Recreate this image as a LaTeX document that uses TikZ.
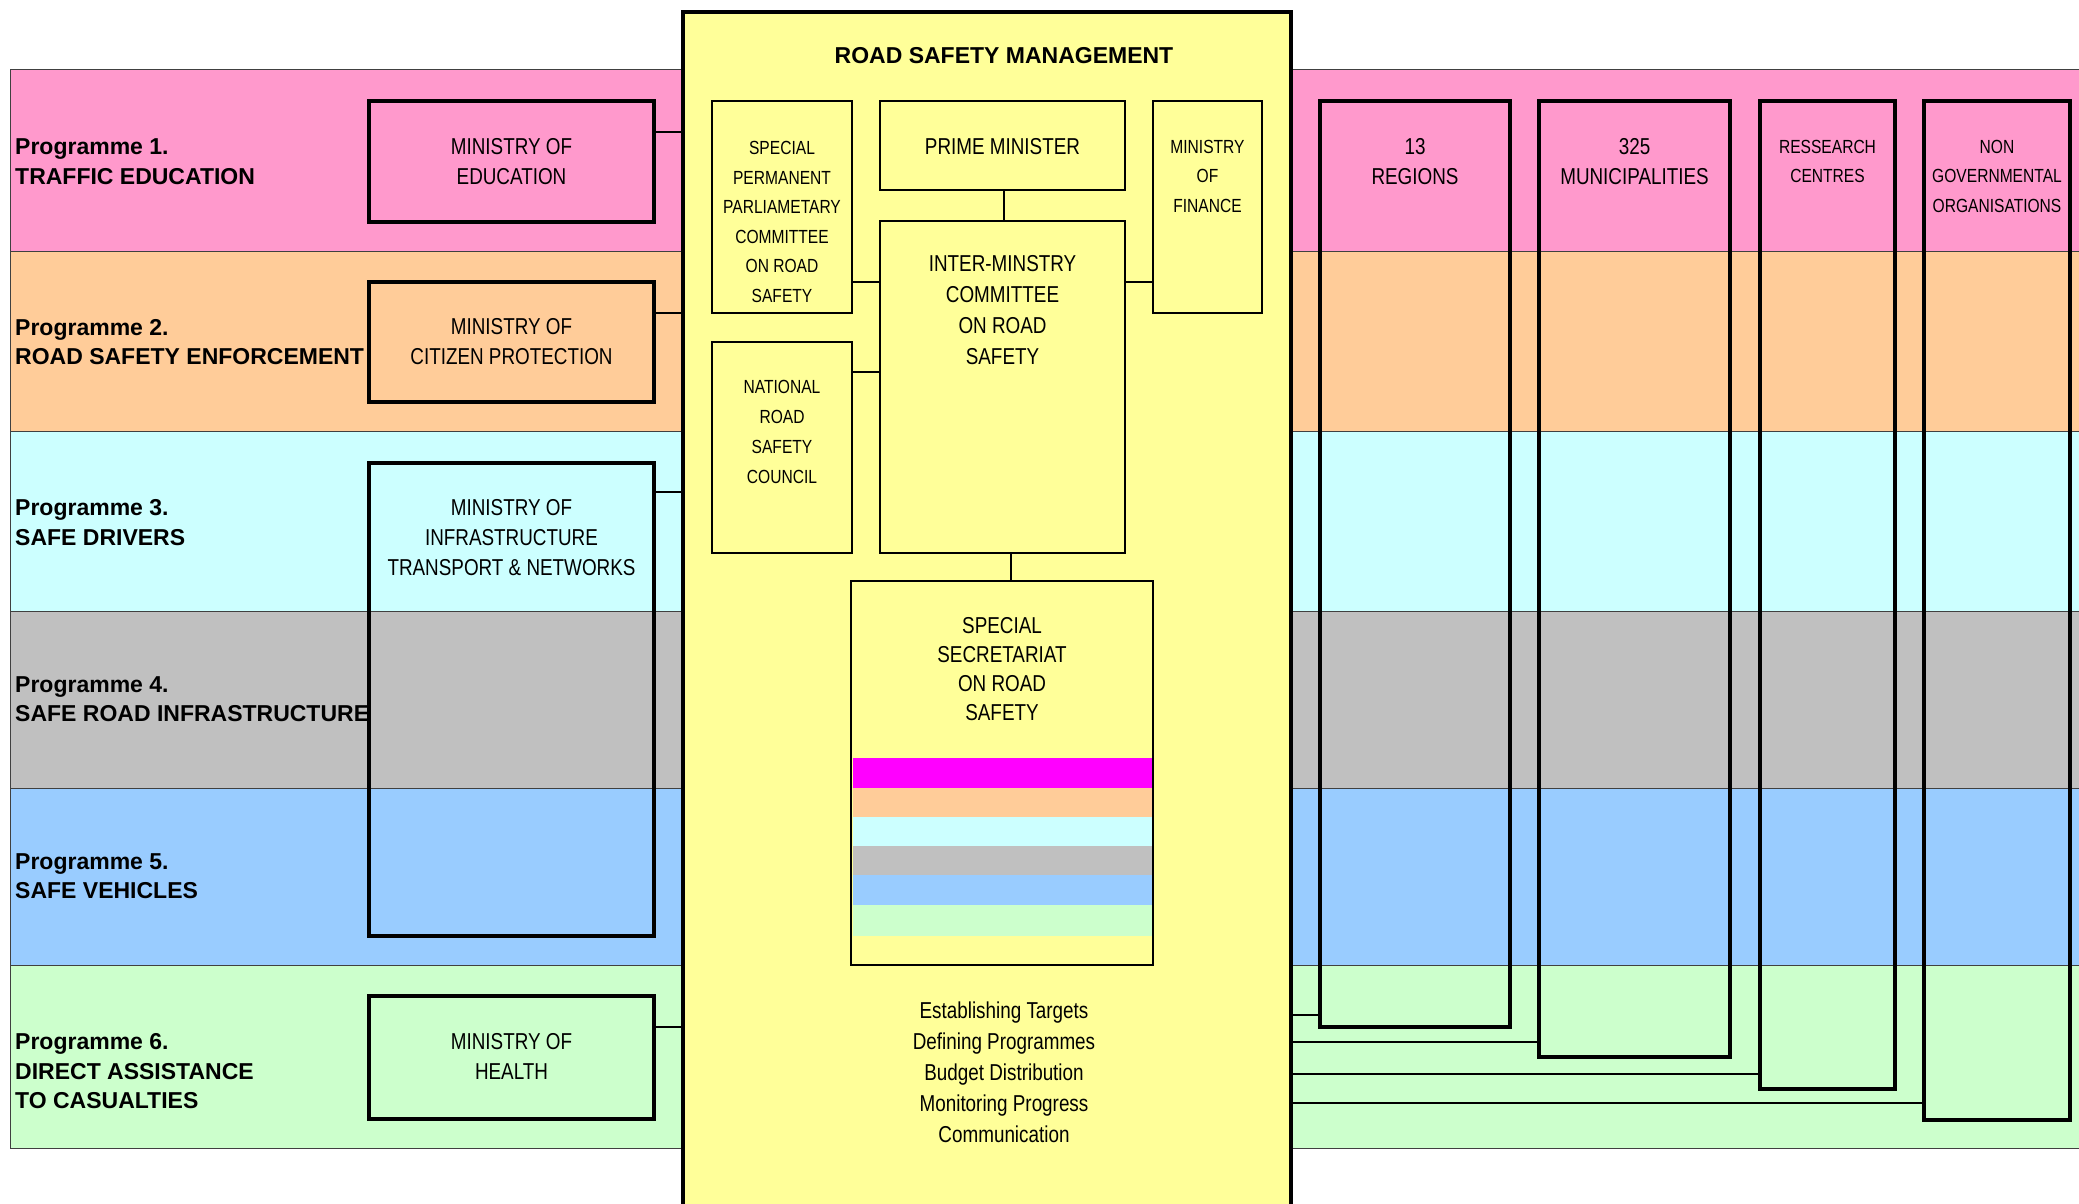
\documentclass[tikz,border=0pt]{standalone}
\usepackage{fontspec}
\setmainfont{Liberation Sans}
\newfontfamily\nar[FakeStretch=0.82]{Liberation Sans}
\definecolor{bpink}{HTML}{FF99CC}
\definecolor{borange}{HTML}{FFCC99}
\definecolor{bcyan}{HTML}{CCFFFF}
\definecolor{bgray}{HTML}{C0C0C0}
\definecolor{bblue}{HTML}{99CCFF}
\definecolor{bgreen}{HTML}{CCFFCC}
\definecolor{byellow}{HTML}{FFFF99}
\definecolor{bmagenta}{HTML}{FF00FF}
\begin{document}
\begin{tikzpicture}[x=1pt,y=-1pt,
  bandline/.style={draw=black!75, line width=1pt},
  minbox/.style={draw, line width=3.2pt, inner sep=0pt, minimum width=285pt},
  inbox/.style={draw, line width=2.4pt, inner sep=0pt},
  rbox/.style={draw, line width=3.6pt, inner sep=0pt},
  boldtxt/.style={font=\bfseries\fontsize{23}{29.5}\selectfont, align=left, anchor=west, inner sep=0pt},
  regtxt/.style={font=\nar\fontsize{23}{30}\selectfont, align=center, inner sep=0pt},
  smalltxt/.style={font=\nar\fontsize{19}{29.5}\selectfont, align=center, inner sep=0pt},
  conn/.style={line width=2.6pt},
  rconn/.style={line width=2.2pt},
  thinconn/.style={line width=1.5pt}]
\useasboundingbox (0,0) rectangle (2079,1204);
\fill[white] (0,0) rectangle (2079,1204);
% programme bands
\filldraw[fill=bpink, bandline] (10,70) rectangle (2095,251);
\filldraw[fill=borange, bandline] (10,251) rectangle (2095,431);
\filldraw[fill=bcyan, bandline] (10,431) rectangle (2095,611);
\filldraw[fill=bgray, bandline] (10,611) rectangle (2095,788);
\filldraw[fill=bblue, bandline] (10,788) rectangle (2095,965);
\filldraw[fill=bgreen, bandline] (10,965) rectangle (2095,1148);
% programme labels
\node[boldtxt] (p1) at (15,161.5) {Programme 1.\\TRAFFIC EDUCATION};
\node[boldtxt] (p2) at (15,342) {Programme 2.\\ROAD SAFETY ENFORCEMENT};
\node[boldtxt] (p3) at (15,522.5) {Programme 3.\\SAFE DRIVERS};
\node[boldtxt] (p4) at (15,699) {Programme 4.\\SAFE ROAD INFRASTRUCTURE};
\node[boldtxt] (p5) at (15,876) {Programme 5.\\SAFE VEHICLES};
\node[boldtxt] (p6) at (15,1071.5) {Programme 6.\\DIRECT ASSISTANCE\\TO CASUALTIES};
% ministries (left)
\node[minbox, minimum height=121pt] (edu) at (511.5,161.5) {};
\node[minbox, minimum height=120pt] (cit) at (511.5,342) {};
\node[minbox, minimum height=473pt] (inf) at (511.5,699.5) {};
\node[minbox, minimum height=123pt] (hea) at (511.5,1057.5) {};
\node[regtxt] (edut) at (511.5,161.5) {MINISTRY OF\\EDUCATION};
\node[regtxt] (citt) at (511.5,342) {MINISTRY OF\\CITIZEN PROTECTION};
\node[regtxt] (inft) at (511.5,537.5) {MINISTRY OF\\INFRASTRUCTURE\\TRANSPORT \& NETWORKS};
\node[regtxt] (heat) at (511.5,1056) {MINISTRY OF\\HEALTH};
% main management box
\node[draw, fill=byellow, line width=4pt, inner sep=0pt, minimum width=608pt, minimum height=1213pt] (main) at (987,618.5) {};
\node[font=\bfseries\fontsize{23}{28}\selectfont, inner sep=0pt] (title) at (1004,56) {ROAD SAFETY MANAGEMENT};
% inner boxes
\node[inbox, minimum width=140pt, minimum height=212pt] (sppc) at (782,207) {};
\node[inbox, minimum width=245pt, minimum height=89pt] (pm) at (1002.5,145.5) {};
\node[inbox, minimum width=109pt, minimum height=212pt] (fin) at (1207.5,207) {};
\node[inbox, minimum width=245pt, minimum height=332pt] (imc) at (1002.5,387) {};
\node[inbox, minimum width=140pt, minimum height=211pt] (nrsc) at (782,447.5) {};
\node[inbox, fill=byellow, minimum width=302pt, minimum height=384pt] (sec) at (1002,773) {};
% secretariat colour stripes
\fill[bmagenta] (852.5,758) rectangle (1151.5,788);
\fill[borange] (852.5,788) rectangle (1151.5,817);
\fill[bcyan] (852.5,817) rectangle (1151.5,846);
\fill[bgray] (852.5,846) rectangle (1151.5,875);
\fill[bblue] (852.5,875) rectangle (1151.5,905);
\fill[bgreen] (852.5,905) rectangle (1151.5,936);
% inner texts
\node[smalltxt] (sppct) at (782,222) {SPECIAL\\PERMANENT\\PARLIAMETARY\\COMMITTEE\\ON ROAD\\SAFETY};
\node[regtxt] (pmt) at (1002.5,147) {PRIME MINISTER};
\node[smalltxt] (fint) at (1207.5,176) {MINISTRY\\OF\\FINANCE};
\node[regtxt, font=\nar\fontsize{23}{31}\selectfont] (imct) at (1002.5,310.5) {INTER-MINSTRY\\COMMITTEE\\ON ROAD\\SAFETY};
\node[smalltxt, font=\nar\fontsize{19}{30}\selectfont] (nrsct) at (782,432) {NATIONAL\\ROAD\\SAFETY\\COUNCIL};
\node[regtxt, font=\nar\fontsize{23}{29}\selectfont] (sect) at (1002,669.5) {SPECIAL\\SECRETARIAT\\ON ROAD\\SAFETY};
\node[regtxt, font=\nar\fontsize{23}{31}\selectfont] (tasks) at (1004,1072) {Establishing Targets\\Defining Programmes\\Budget Distribution\\Monitoring Progress\\Communication};
% inner connectors
\draw[thinconn] (pm.south -| 1004,0) -- (imc.north -| 1004,0);
\draw[conn] (sppc.east |- 0,282) -- (imc.west |- 0,282);
\draw[conn] (nrsc.east |- 0,372) -- (imc.west |- 0,372);
\draw[conn] (imc.east |- 0,282) -- (fin.west |- 0,282);
\draw[thinconn] (imc.south -| 1011,0) -- (sec.north -| 1011,0);
% ministry connectors
\draw[conn] (edu.east |- 0,132) -- (main.west |- 0,132);
\draw[conn] (cit.east |- 0,313) -- (main.west |- 0,313);
\draw[conn] (inf.east |- 0,492) -- (main.west |- 0,492);
\draw[conn] (hea.east |- 0,1027) -- (main.west |- 0,1027);
% right side boxes
\node[rbox, minimum width=190pt, minimum height=926pt] (reg) at (1415,564) {};
\node[rbox, minimum width=191pt, minimum height=956pt] (mun) at (1634.5,579) {};
\node[rbox, minimum width=135pt, minimum height=988pt] (res) at (1827.5,595) {};
\node[rbox, minimum width=146pt, minimum height=1019pt] (ngo) at (1997,610.5) {};
\node[regtxt] (regt) at (1415,161.5) {13\\REGIONS};
\node[regtxt] (munt) at (1634.5,161.5) {325\\MUNICIPALITIES};
\node[smalltxt] (rest) at (1827.5,161.5) {RESSEARCH\\CENTRES};
\node[smalltxt] (ngot) at (1997,176) {NON\\GOVERNMENTAL\\ORGANISATIONS};
% right connectors
\draw[rconn] (main.east |- 0,1015) -- (reg.west |- 0,1015);
\draw[rconn] (main.east |- 0,1042) -- (mun.west |- 0,1042);
\draw[rconn] (main.east |- 0,1074) -- (res.west |- 0,1074);
\draw[rconn] (main.east |- 0,1103) -- (ngo.west |- 0,1103);
\end{tikzpicture}
\end{document}
